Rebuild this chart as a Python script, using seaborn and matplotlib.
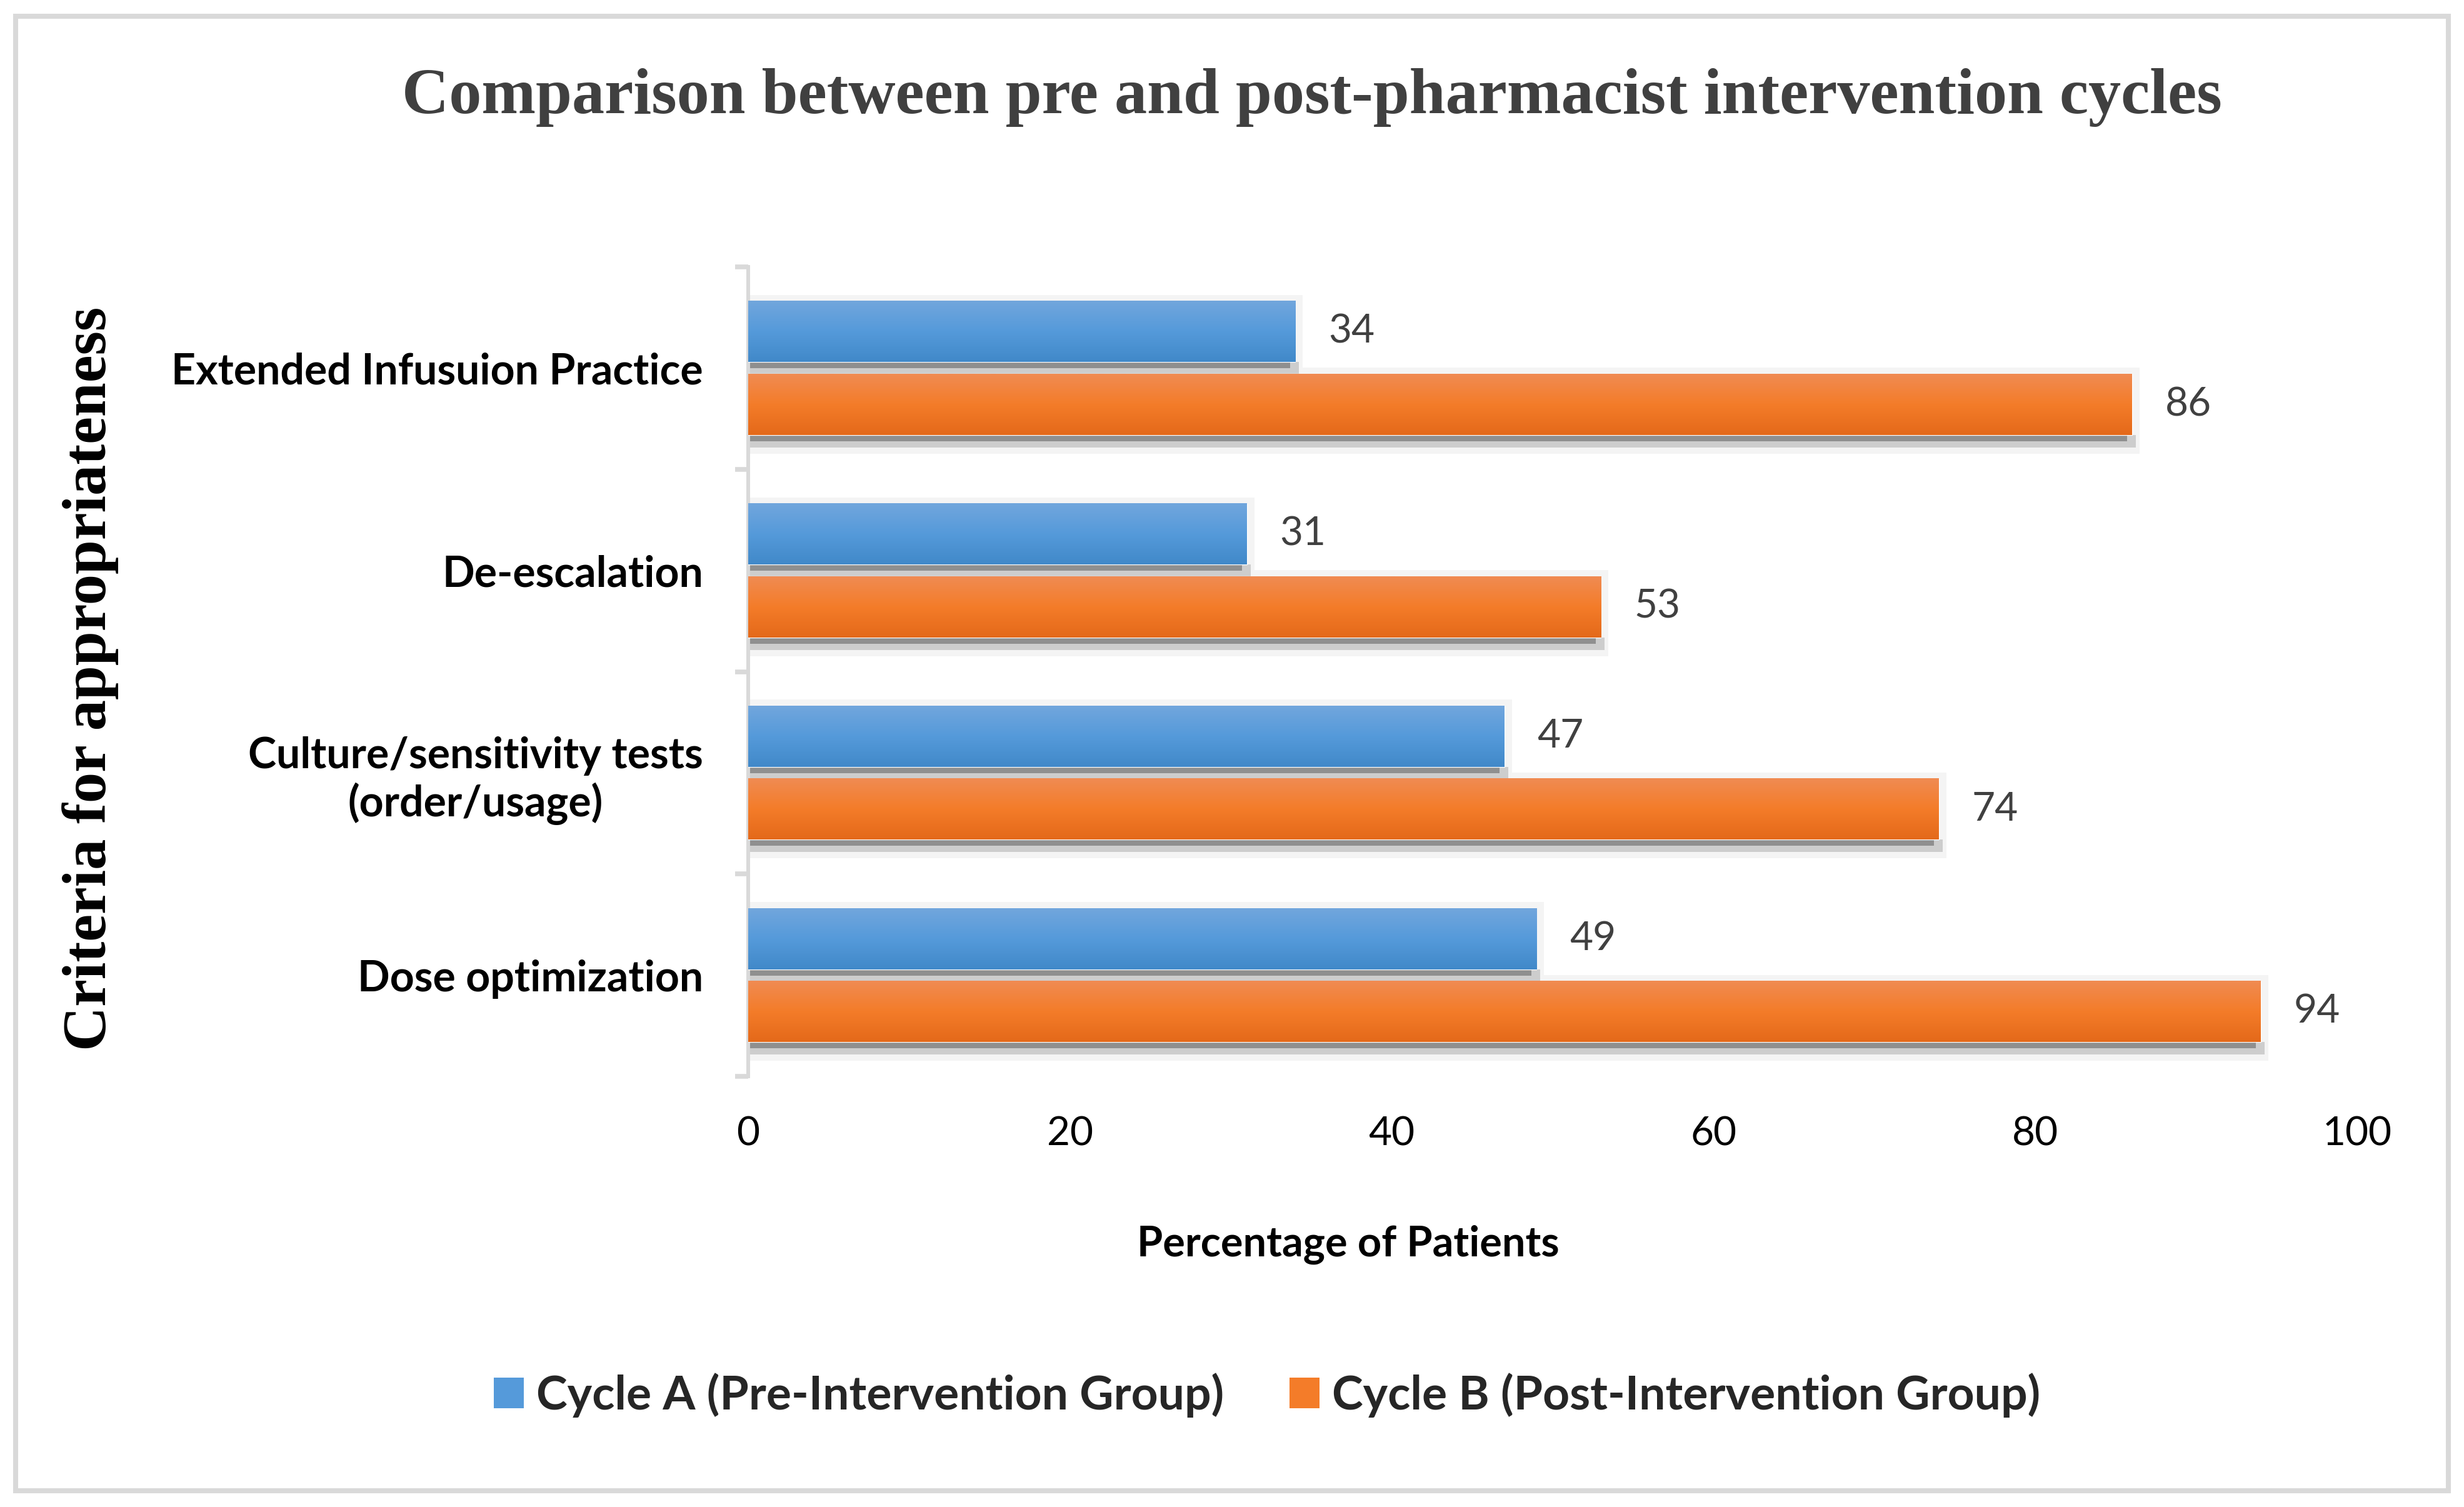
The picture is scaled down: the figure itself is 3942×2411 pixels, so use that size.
import matplotlib
matplotlib.use("Agg")
import matplotlib.pyplot as plt
import matplotlib.patches as mpatches
import matplotlib.colors as mcolors
import numpy as np
import pandas as pd
import seaborn as sns

# dados do grafico
categorias = ["Extended Infusuion Practice", "De-escalation",
              "Culture/sensitivity tests\n(order/usage)", "Dose optimization"]
ciclo_a = [34, 31, 47, 49]
ciclo_b = [86, 53, 74, 94]
grupos = ["Cycle A (Pre-Intervention Group)", "Cycle B (Post-Intervention Group)"]
ticks_x = [0, 20, 40, 60, 80, 100]

df = pd.DataFrame({
    "criterio": categorias * 2,
    "valor": ciclo_a + ciclo_b,
    "grupo": [grupos[0]] * 4 + [grupos[1]] * 4,
})

sns.set_theme(style="white")
plt.rcParams['font.family'] = ['Lato', 'DejaVu Sans']

# cores (topo, meio, base) para o degradê
cores = {
    grupos[0]: ["#71a6dd", "#559ada", "#4189c9"],
    grupos[1]: ["#f08b52", "#f47c29", "#e4691a"],
}
paleta = {g: c[1] for g, c in cores.items()}

W, H = 3942, 2411
fig = plt.figure(figsize=(W / 100, H / 100), dpi=100)
ax = fig.add_axes([1197 / W, 1 - 1722 / H, (3771 - 1197) / W, (1722 - 427) / H])

sns.barplot(data=df, y="criterio", x="valor", hue="grupo", order=categorias,
            hue_order=grupos, palette=paleta, orient="h", width=0.72, gap=0.165,
            ax=ax, legend=False, zorder=3)

ax.set_xlim(0, 100)
ax.set_ylim(3.5, -0.5)

px_x = 100 / (3771 - 1197)
px_y = 4 / (1722 - 427)

# degradê e sombra das barras
for cont, g in zip(ax.containers, grupos):
    cmap = mcolors.LinearSegmentedColormap.from_list(g, cores[g])
    grad = np.linspace(0, 1, 64).reshape(-1, 1)
    for bar in cont:
        x0, y0, w, h = bar.get_x(), bar.get_y(), bar.get_width(), bar.get_height()
        ax.imshow(grad, cmap=cmap, aspect="auto", extent=(x0, x0 + w, y0 + h, y0),
                  zorder=4, interpolation="bilinear")
        # sombra em camadas
        ax.add_patch(mpatches.Rectangle((x0, y0 - 10 * px_y), w + 12 * px_x, h + 40 * px_y,
                                        facecolor="#f4f4f4", edgecolor="none", zorder=1))
        ax.add_patch(mpatches.Rectangle((x0, y0 + h), w + 6 * px_x, 20 * px_y,
                                        facecolor="#cdcdcd", edgecolor="none", zorder=2))
        ax.add_patch(mpatches.Rectangle((x0, y0 + h), w - 8 * px_x, 10 * px_y,
                                        facecolor="#8f8f8f", edgecolor="none", zorder=2.5))
    ax.bar_label(cont, fmt="%d", padding=38, fontsize=46, color="#404040", zorder=5)

ax.set_xlim(0, 100)
ax.set_ylim(3.5, -0.5)

# eixos
for s in ["top", "right", "bottom"]:
    ax.spines[s].set_visible(False)
ax.spines["left"].set_color("#d9d9d9")
ax.spines["left"].set_linewidth(4.3)

ax.set_xticks(ticks_x)
ax.set_xticklabels([str(t) for t in ticks_x], fontsize=46, color="black")
ax.tick_params(axis="x", length=0, pad=46)

ax.set_yticks(range(4))
ax.set_yticklabels(categorias, fontsize=49, fontweight="bold", color="black")
for lbl in ax.get_yticklabels():
    lbl.set_multialignment("center")
ax.tick_params(axis="y", which="major", length=0, pad=52)
ax.set_yticks(np.arange(-0.5, 4, 1), minor=True)
ax.tick_params(axis="y", which="minor", length=15, width=5.5, color="#d9d9d9", left=True)

ax.set_xlabel("Percentage of Patients", fontsize=48, fontweight="bold", color="black")
ax.xaxis.set_label_coords(0.373, -0.208)
ax.xaxis.label.set_va("center")

ax.set_ylabel("Criteria for appropriateness", fontsize=71, fontweight="bold", color="black",
              family="Liberation Serif")
ax.yaxis.set_label_coords(-0.409, 0.491)
ax.yaxis.label.set_va("center")

fig.text(2099 / W, 1 - 156 / H, "Comparison between pre and post-pharmacist intervention cycles",
         ha="center", va="center", fontsize=75, fontweight="bold", color="#404040",
         family="Liberation Serif")

# legenda
handles = [mpatches.Patch(facecolor=paleta[g], edgecolor="none", label=g) for g in grupos]
fig.legend(handles=handles, loc="center", bbox_to_anchor=(2027 / W, 1 - 2232 / H), ncol=2,
           frameon=False, prop={"size": 54, "weight": "bold"}, handlelength=0.64,
           handleheight=0.64, handletextpad=0.27, columnspacing=1.4)

# moldura externa
fig.patches.append(mpatches.Rectangle((25 / W, 26 / H), 1 - 50 / W, 1 - 52 / H,
                                      transform=fig.transFigure, fill=False,
                                      edgecolor="#d9d9d9", linewidth=5.8))

fig.savefig("out.png", dpi=100, facecolor="white")
